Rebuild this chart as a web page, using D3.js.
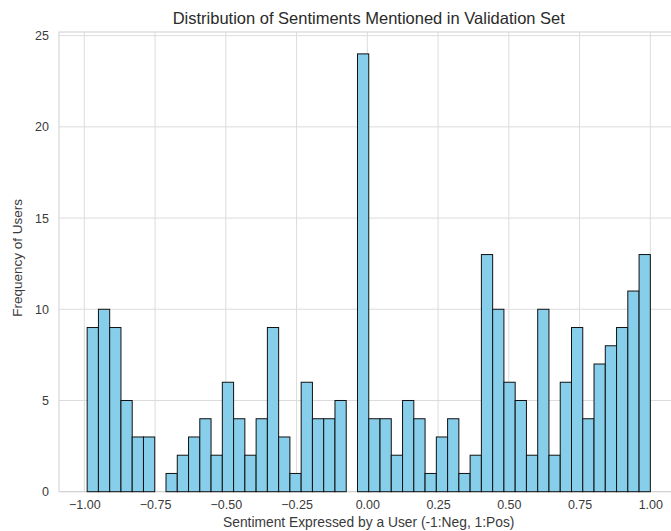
<!DOCTYPE html>
<html>
<head>
<meta charset="utf-8">
<script src="https://cdn.jsdelivr.net/npm/d3@7"></script>
<style>
  html, body { margin: 0; padding: 0; background: #fff; }
  svg { display: block; font-family: "Liberation Sans", Arial, sans-serif; }
</style>
</head>
<body>
<svg id="chart" width="671" height="531"></svg>
<script>
// ---- data ----
const title = "Distribution of Sentiments Mentioned in Validation Set";
const xLabel = "Sentiment Expressed by a User (-1:Neg, 1:Pos)";
const yLabel = "Frequency of Users";
const dataMin = -0.99;
const dataMax = 1.0;
const counts = [9,10,9,5,3,3,0,1,2,3,4,2,6,4,2,4,9,3,1,6,4,4,5,0,24,
                4,4,2,5,4,1,3,4,1,2,13,10,6,5,2,10,2,6,9,4,7,8,9,11,13];
const xTicks = [-1.0, -0.75, -0.5, -0.25, 0, 0.25, 0.5, 0.75, 1.0];
const yTicks = [0, 5, 10, 15, 20, 25];

// ---- layout ----
const svg = d3.select("#chart");
const mLeft = 59, mRight = 678.5, mTop = 32, mBottom = 491.7;
const binW = (dataMax - dataMin) / counts.length;
const pad = (dataMax - dataMin) * 0.05;
const x = d3.scaleLinear().domain([dataMin - pad, dataMax + pad]).range([mLeft, mRight]);
const y = d3.scaleLinear().domain([0, d3.max(counts) * 1.05]).range([mBottom, mTop]);

const grid = "#dcdcdc";
const textCol = "#3a3a3a";

// grid lines
svg.append("g").selectAll("line").data(xTicks).join("line")
  .attr("x1", d => x(d)).attr("x2", d => x(d))
  .attr("y1", mTop).attr("y2", mBottom)
  .attr("stroke", grid).attr("stroke-width", 1);
svg.append("g").selectAll("line").data(yTicks).join("line")
  .attr("x1", mLeft).attr("x2", mRight)
  .attr("y1", d => y(d)).attr("y2", d => y(d))
  .attr("stroke", grid).attr("stroke-width", 1);

// frame
svg.append("rect").attr("x", mLeft).attr("y", mTop)
  .attr("width", mRight - mLeft).attr("height", mBottom - mTop)
  .attr("fill", "none").attr("stroke", "#d0d0d0").attr("stroke-width", 1);

// bars
const bins = counts.map((c, i) => ({x0: dataMin + i * binW, x1: dataMin + (i + 1) * binW, c}));
svg.append("g").selectAll("rect").data(bins.filter(b => b.c > 0)).join("rect")
  .attr("x", d => x(d.x0))
  .attr("width", d => x(d.x1) - x(d.x0))
  .attr("y", d => y(d.c))
  .attr("height", d => y(0) - y(d.c))
  .attr("fill", "#87CEEB")
  .attr("stroke", "#111")
  .attr("stroke-width", 1);

// axes (tick labels only, via d3 axes)
const fmtX = v => d3.format(".2f")(v).replace("-", "\u2212");
const xAxis = svg.append("g").attr("transform", `translate(0,${mBottom})`)
  .call(d3.axisBottom(x).tickValues(xTicks).tickFormat(fmtX).tickSize(0).tickPadding(8));
const yAxis = svg.append("g").attr("transform", `translate(${mLeft},0)`)
  .call(d3.axisLeft(y).tickValues(yTicks).tickFormat(d3.format("d")).tickSize(0).tickPadding(10));
[xAxis, yAxis].forEach(a => {
  a.select(".domain").remove();
  a.selectAll("text").attr("fill", textCol).style("font-size", "12.5px")
    .style("font-family", "'Liberation Sans', Arial, sans-serif");
});

// title & labels
svg.append("text").attr("x", (mLeft + mRight) / 2).attr("y", 24)
  .attr("text-anchor", "middle").attr("fill", "#2a2a2a")
  .style("font-size", "16.5px").text(title);
svg.append("text").attr("x", (mLeft + mRight) / 2).attr("y", 527)
  .attr("text-anchor", "middle").attr("fill", textCol)
  .style("font-size", "13.8px").text(xLabel);
svg.append("text").attr("transform", `translate(22,${(mTop + mBottom) / 2 - 4}) rotate(-90)`)
  .attr("text-anchor", "middle").attr("fill", textCol)
  .style("font-size", "13.5px").text(yLabel);
</script>
</body>
</html>
